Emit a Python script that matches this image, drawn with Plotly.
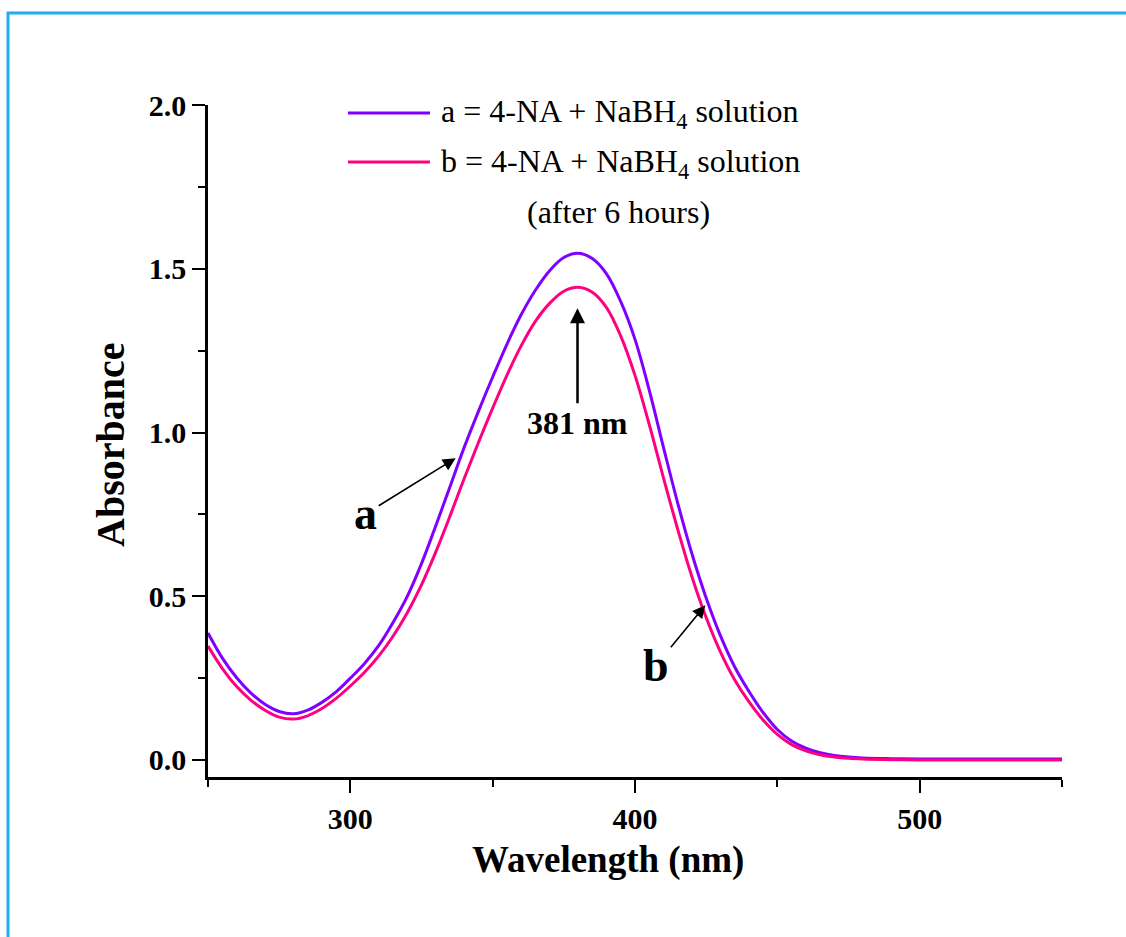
import plotly.graph_objects as go

# ---------------- data ----------------
wavelength = [250, 255, 260, 265, 270, 275, 280, 285, 290, 295, 300, 305, 310, 315,
              320, 325, 330, 335, 340, 345, 350, 355, 360, 365, 370, 375, 380, 385, 390,
              395, 400, 405, 410, 415, 420, 425, 430, 435, 440, 445, 450, 455, 460, 465,
              470, 475, 480, 490, 500, 520, 550]

abs_a = [0.388, 0.312, 0.252, 0.205, 0.170, 0.148, 0.141, 0.152, 0.176, 0.208, 0.250,
         0.295, 0.350, 0.420, 0.500, 0.600, 0.715, 0.835, 0.955, 1.065, 1.170, 1.270,
         1.360, 1.435, 1.495, 1.535, 1.548, 1.532, 1.485, 1.400, 1.285, 1.130, 0.955,
         0.785, 0.630, 0.495, 0.380, 0.285, 0.210, 0.145, 0.093, 0.058, 0.036, 0.022,
         0.014, 0.009, 0.006, 0.004, 0.003, 0.003, 0.003]

abs_b = [0.348, 0.280, 0.225, 0.183, 0.152, 0.131, 0.125, 0.135, 0.157, 0.188, 0.226,
         0.268, 0.318, 0.378, 0.450, 0.535, 0.635, 0.745, 0.860, 0.970, 1.075, 1.175,
         1.265, 1.340, 1.395, 1.432, 1.444, 1.429, 1.382, 1.295, 1.175, 1.025, 0.862,
         0.705, 0.560, 0.435, 0.330, 0.245, 0.178, 0.122, 0.078, 0.047, 0.028, 0.016,
         0.009, 0.005, 0.003, 0.001, 0.000, 0.000, 0.000]

x_ticks = [300, 400, 500]
y_ticks = [0.0, 0.5, 1.0, 1.5, 2.0]
y_tick_labels = ["0.0", "0.5", "1.0", "1.5", "2.0"]

name_a = "a = 4-NA + NaBH<sub>4</sub> solution"
name_b = "b = 4-NA + NaBH<sub>4</sub> solution"
name_b2 = "(after 6 hours)"

color_a = "#8000ff"
color_b = "#ff0080"
FONT = "Liberation Serif, Times New Roman, serif"

# ---------------- figure ----------------
fig = go.Figure()
fig.add_trace(go.Scatter(x=wavelength, y=abs_a, mode="lines", name="a",
                         line=dict(color=color_a, width=3, shape="spline", smoothing=1.0),
                         showlegend=False))
fig.add_trace(go.Scatter(x=wavelength, y=abs_b, mode="lines", name="b",
                         line=dict(color=color_b, width=3, shape="spline", smoothing=1.0),
                         showlegend=False))

W, H = 1126, 937
L, R, T, B = 208, 64, 105, 160
pw, ph = W - L - R, H - T - B

def px(xp):
    return (xp - L) / pw

def py(yp):
    return (H - B - yp) / ph

fig.update_layout(
    width=W, height=H,
    margin=dict(l=L, r=R, t=T, b=B, pad=0),
    paper_bgcolor="white", plot_bgcolor="white",
    font=dict(family=FONT, color="black"),
    xaxis=dict(range=[250, 550], tickvals=x_ticks, ticktext=[str(v) for v in x_ticks],
               ticks="outside", ticklen=13, tickwidth=2, tickcolor="black",
               showline=True, linewidth=2.5, linecolor="black", mirror=False,
               showgrid=False, zeroline=False,
               minor=dict(tickvals=[250, 350, 450, 550], ticks="outside", ticklen=7,
                          tickwidth=2, tickcolor="black", showgrid=False),
               tickfont=dict(family=FONT, size=30, weight="bold", color="black")),
    yaxis=dict(range=[-0.052, 2.001], tickvals=y_ticks, ticktext=y_tick_labels,
               ticks="outside", ticklen=13, tickwidth=2, tickcolor="black",
               showline=True, linewidth=2.5, linecolor="black", mirror=False,
               showgrid=False, zeroline=False,
               minor=dict(tickvals=[0.25, 0.75, 1.25, 1.75], ticks="outside", ticklen=7,
                          tickwidth=2, tickcolor="black", showgrid=False),
               tickfont=dict(family=FONT, size=30, weight="bold", color="black")),
    showlegend=False,
)

# blue frame around the figure
fig.add_shape(type="rect", xref="paper", yref="paper",
              x0=px(8), x1=px(1135), y0=py(945), y1=py(13),
              line=dict(color="#1eaee8", width=3), fillcolor="rgba(0,0,0,0)", layer="below")

# custom legend
fig.add_shape(type="line", xref="paper", yref="paper", x0=px(348), x1=px(430),
              y0=py(113), y1=py(113), line=dict(color=color_a, width=3))
fig.add_shape(type="line", xref="paper", yref="paper", x0=px(348), x1=px(430),
              y0=py(162), y1=py(162), line=dict(color=color_b, width=3))

legend_font = dict(family=FONT, size=32, color="black")
fig.add_annotation(xref="paper", yref="paper", x=px(439), y=py(114), text=name_a,
                   showarrow=False, xanchor="left", yanchor="middle", font=legend_font)
fig.add_annotation(xref="paper", yref="paper", x=px(439), y=py(163), text=name_b,
                   showarrow=False, xanchor="left", yanchor="middle", font=legend_font)
fig.add_annotation(xref="paper", yref="paper", x=px(618), y=py(212), text=name_b2,
                   showarrow=False, xanchor="center", yanchor="middle", font=legend_font)

# axis titles
fig.add_annotation(xref="paper", yref="paper", x=px(608), y=py(860), text="Wavelength (nm)",
                   showarrow=False, xanchor="center", yanchor="middle",
                   font=dict(family=FONT, size=37, weight="bold", color="black"))
fig.add_annotation(xref="paper", yref="paper", x=px(110), y=py(445), text="Absorbance",
                   showarrow=False, xanchor="center", yanchor="middle", textangle=-90,
                   font=dict(family=FONT, size=40, weight="bold", color="black"))

# labels with arrows (text sits at the arrow tail)
lbl_font = dict(family=FONT, size=46, weight="bold", color="black")
fig.add_annotation(x=337.0, y=0.922, ax=305.4, ay=0.752, axref="x", ayref="y", text="a",
                   font=lbl_font, showarrow=True, arrowhead=2, arrowsize=1.6,
                   arrowwidth=1.6, arrowcolor="black", standoff=0, startstandoff=0)
fig.add_annotation(x=424.7, y=0.473, ax=407.5, ay=0.29, axref="x", ayref="y", text="b",
                   font=lbl_font, showarrow=True, arrowhead=2, arrowsize=1.6,
                   arrowwidth=1.6, arrowcolor="black", standoff=0, startstandoff=0)
fig.add_annotation(x=379.8, y=1.38, ax=379.8, ay=1.03, axref="x", ayref="y", text="381 nm",
                   font=dict(family=FONT, size=32, weight="bold", color="black"),
                   showarrow=True, arrowhead=2, arrowsize=1.2, arrowwidth=2.5,
                   arrowcolor="black", standoff=0, startstandoff=0)

fig.write_html("out.html")
